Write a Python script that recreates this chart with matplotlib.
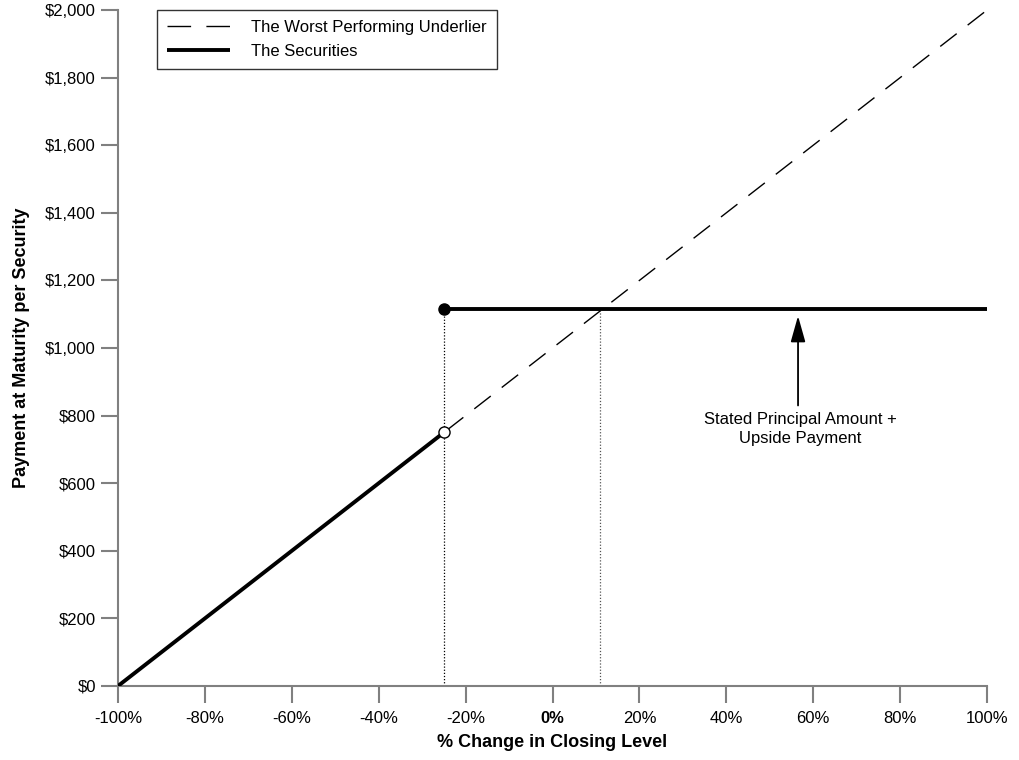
import matplotlib
matplotlib.use('Agg')
import matplotlib.pyplot as plt

plt.rcParams['font.family'] = ['Liberation Sans', 'DejaVu Sans']

# underlier: payment follows the index 1:1
underlier_x = [-100, 100]
underlier_y = [0, 2000]

# securities: linear below the barrier, capped payment above it
barrier_pct = -25
barrier_low = 750
capped_payment = 1115
cross_pct = 11
sec_low_x = [-100, -25]
sec_low_y = [0, 750]
sec_high_x = [-25, 100]
sec_high_y = [1115, 1115]

x_ticks = [-100, -80, -60, -40, -20, 0, 20, 40, 60, 80, 100]
x_labels = ['-100%', '-80%', '-60%', '-40%', '-20%', '0%', '20%', '40%', '60%', '80%', '100%']
y_ticks = [0, 200, 400, 600, 800, 1000, 1200, 1400, 1600, 1800, 2000]
y_labels = ['$0', '$200', '$400', '$600', '$800', '$1,000', '$1,200', '$1,400', '$1,600', '$1,800', '$2,000']

fig = plt.figure(figsize=(10.2, 7.6), dpi=100)
ax = fig.add_axes([0.1157, 0.0974, 0.852, 0.8894])

ax.plot(underlier_x, underlier_y, color='black', lw=1.0, dashes=(15, 10),
        label='The Worst Performing Underlier', zorder=2)
ax.plot(sec_low_x, sec_low_y, color='black', lw=2.8, solid_capstyle='butt',
        label='The Securities', zorder=3)
ax.plot(sec_high_x, sec_high_y, color='black', lw=2.8, solid_capstyle='butt', zorder=3)

# dotted guides down to the axis
ax.plot([barrier_pct, barrier_pct], [0, capped_payment], color='black', lw=0.9,
        linestyle=(0, (1, 1.5)), zorder=1)
ax.plot([cross_pct, cross_pct], [0, capped_payment], color='#555555', lw=0.9,
        linestyle=(0, (1, 1.5)), zorder=1)

ax.plot([barrier_pct], [capped_payment], 'o', color='black', ms=8, zorder=4)
ax.plot([barrier_pct], [barrier_low], 'o', mfc='white', mec='black', mew=1, ms=8, zorder=4)

ax.annotate('', xy=(56.5, capped_payment - 20), xytext=(56.5, 830),
            arrowprops=dict(arrowstyle='-|>,head_length=1.6,head_width=0.45',
                            color='#555555', lw=1.3, shrinkA=0, shrinkB=0,
                            fc='black', ec='black'))
ax.text(57, 760, 'Stated Principal Amount +\nUpside Payment', ha='center', va='center',
        fontsize=12, linespacing=1.35)

ax.set_xlim(-100, 100)
ax.set_ylim(0, 2000)
ax.set_xticks(x_ticks)
ax.set_xticklabels(x_labels)
ax.set_yticks(y_ticks)
ax.set_yticklabels(y_labels)
for lbl in ax.get_xticklabels():
    if lbl.get_text() == '0%':
        lbl.set_fontweight('bold')

for side in ['top', 'right']:
    ax.spines[side].set_visible(False)
for side in ['left', 'bottom']:
    ax.spines[side].set_color('#808080')
    ax.spines[side].set_linewidth(1.5)
ax.tick_params(axis='both', direction='out', length=12, width=1.5, color='#808080',
               labelsize=12, pad=4)
ax.tick_params(axis='x', pad=6)

ax.set_xlabel('% Change in Closing Level', fontsize=13, fontweight='bold', labelpad=6)
ax.set_ylabel('Payment at Maturity per Security', fontsize=13, fontweight='bold', labelpad=11)

leg = ax.legend(loc='upper left', bbox_to_anchor=(0.045, 1.0), fontsize=12,
                frameon=True, fancybox=False, handlelength=3.75, borderpad=0.6,
                labelspacing=0.55, handletextpad=1.3, borderaxespad=0)
leg.get_lines()[0].set_dashes((17, 11))
leg.get_frame().set_edgecolor('black')
leg.get_frame().set_linewidth(1.0)

fig.savefig('out.png', dpi=100)
